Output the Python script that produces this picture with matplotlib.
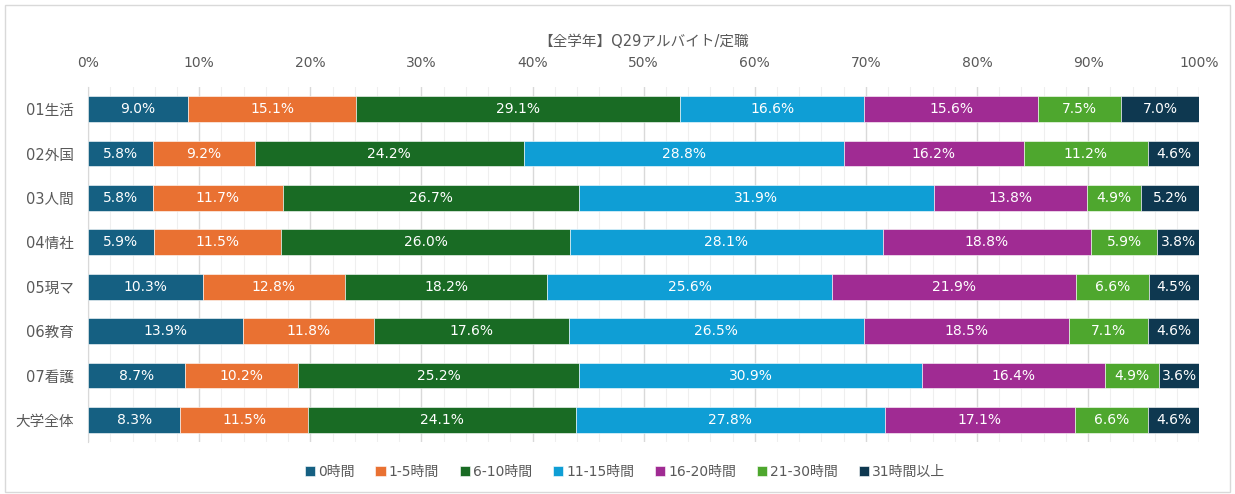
import numpy as np
import matplotlib.pyplot as plt
from matplotlib.patches import Rectangle
from matplotlib.ticker import MultipleLocator, PercentFormatter

# digits look Verdana-like in the original, CJK from Noto
plt.rcParams['font.family'] = ['DejaVu Sans', 'Noto Sans CJK JP']

title = "【全学年】Q29アルバイト/定職"
categories = ["01生活", "02外国", "03人間", "04情社", "05現マ", "06教育", "07看護", "大学全体"]
series = ["0時間", "1-5時間", "6-10時間", "11-15時間", "16-20時間", "21-30時間", "31時間以上"]
values = np.array([
    [9.0, 15.1, 29.1, 16.6, 15.6, 7.5, 7.0],
    [5.8, 9.2, 24.2, 28.8, 16.2, 11.2, 4.6],
    [5.8, 11.7, 26.7, 31.9, 13.8, 4.9, 5.2],
    [5.9, 11.5, 26.0, 28.1, 18.8, 5.9, 3.8],
    [10.3, 12.8, 18.2, 25.6, 21.9, 6.6, 4.5],
    [13.9, 11.8, 17.6, 26.5, 18.5, 7.1, 4.6],
    [8.7, 10.2, 25.2, 30.9, 16.4, 4.9, 3.6],
    [8.3, 11.5, 24.1, 27.8, 17.1, 6.6, 4.6],
])
colors = ["#156082", "#E97132", "#196B24", "#0F9ED5", "#A02B93", "#4EA72E", "#0E3850"]

gray = "#595959"
fig = plt.figure(figsize=(12.35, 4.94), dpi=100)
ax = fig.add_axes([0.0713, 0.105, 0.8997, 0.719])

# 100% stacked: scale each row to its total
shares = values / values.sum(axis=1, keepdims=True) * 100
y = np.arange(len(categories))
left = np.zeros(len(categories))
for j, name in enumerate(series):
    bars = ax.barh(y, shares[:, j], left=left, height=0.58, color=colors[j],
                   edgecolor="white", linewidth=0.4, label=name, zorder=3)
    for i, b in enumerate(bars):
        ax.text(left[i] + shares[i, j] / 2, y[i], f"{values[i, j]:.1f}%",
                ha="center", va="center", color="white", fontsize=10, zorder=4)
    left += shares[:, j]

ax.set_xlim(0, 100)
ax.set_ylim(len(categories) - 0.5, -0.5)
ax.xaxis.tick_top()
ax.xaxis.set_major_locator(MultipleLocator(10))
ax.xaxis.set_minor_locator(MultipleLocator(2))
ax.xaxis.set_major_formatter(PercentFormatter(decimals=0))
ax.set_yticks(y)
ax.set_yticklabels(categories)
ax.tick_params(axis="both", which="both", length=0, colors=gray, labelsize=10)
ax.tick_params(axis="y", labelsize=10.5)
ax.tick_params(axis="x", pad=12)
ax.tick_params(axis="y", pad=10)
ax.grid(axis="x", which="major", color="#d9d9d9", linewidth=1, zorder=0)
ax.grid(axis="x", which="minor", color="#efefef", linewidth=0.8, zorder=0)
for s in ["top", "right", "bottom"]:
    ax.spines[s].set_visible(False)
ax.spines["left"].set_color("#d9d9d9")

fig.text(0.521, 0.915, title, ha="center", va="center", fontsize=10.5, color=gray)

fig.legend(loc="center", bbox_to_anchor=(0.506, 0.045), ncol=7, frameon=False,
           fontsize=10, handlelength=0.75, handleheight=0.75, handletextpad=0.2,
           columnspacing=1.5, labelcolor=gray)

fig.patches.append(Rectangle((0.004, 0.004), 0.992, 0.985, transform=fig.transFigure,
                             fill=False, edgecolor="#d9d9d9", linewidth=1))

fig.savefig("out.png", dpi=100)
